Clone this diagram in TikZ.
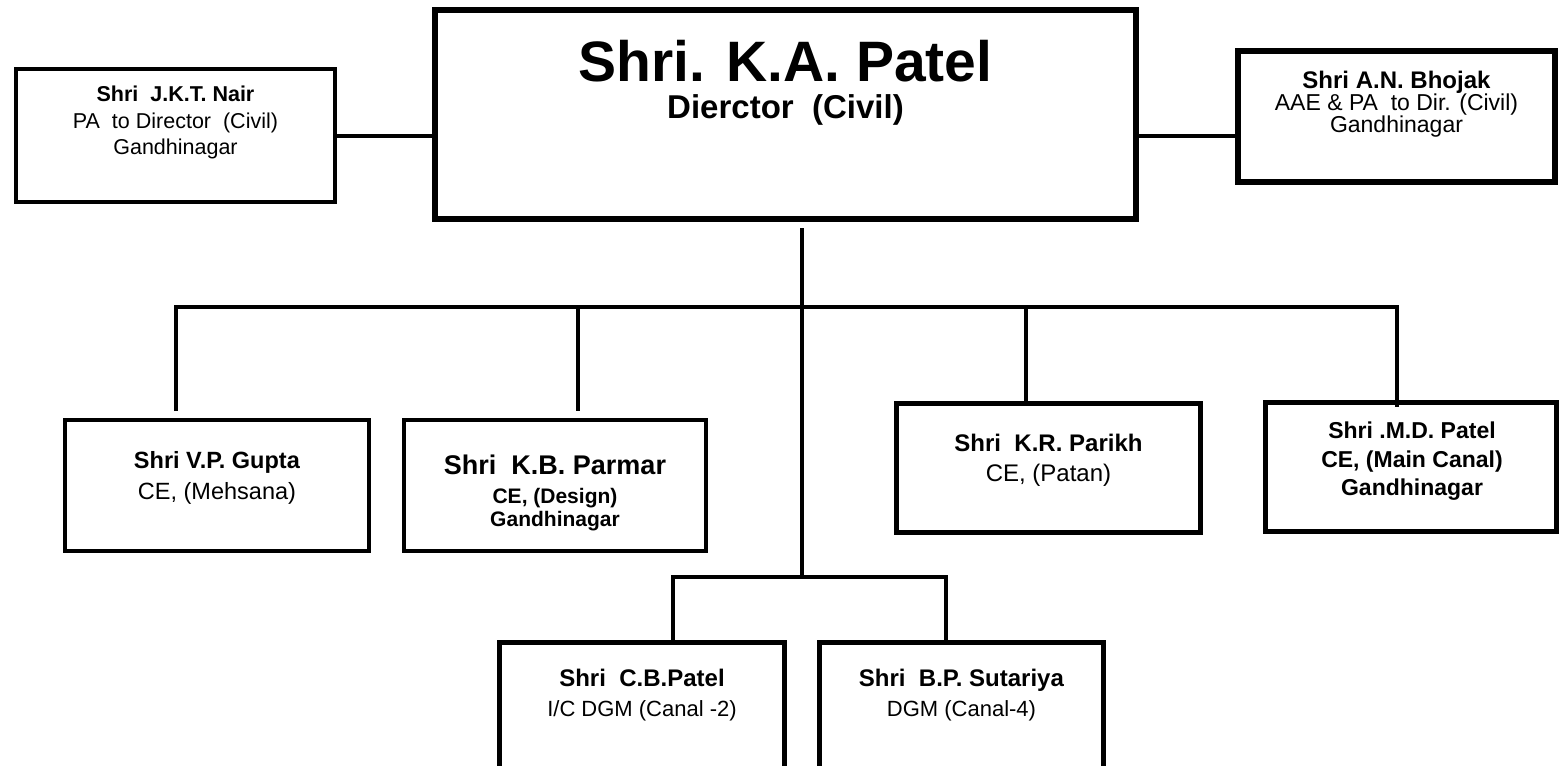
\documentclass[tikz,border=0pt]{standalone}
\usepackage{fontspec}
\setmainfont{Liberation Sans}
\lineskiplimit=-100pt

\begin{document}
\begin{tikzpicture}[x=1pt,y=-1pt,
  box/.style={draw,line width=4pt,inner sep=0pt},
  thickbox/.style={box,line width=6pt},
  midbox/.style={box,line width=5pt},
  conn/.style={line width=4pt},
  txt/.style={anchor=north,align=center,inner sep=0pt},
  txtbase/.style={anchor=base,inner sep=0pt}]
\clip (0,0) rectangle (1559,766);
\fill[white] (0,0) rectangle (1559,766);
% boxes
\node[box,minimum width=319pt,minimum height=133pt] (nair) at (175.5,135.5) {};
\node[thickbox,minimum width=701pt,minimum height=209pt] (dir) at (785.5,114.5) {};
\node[thickbox,minimum width=317pt,minimum height=131pt] (bhojak) at (1396.5,116.5) {};
\node[box,minimum width=304pt,minimum height=131pt] (gupta) at (217,485.5) {};
\node[box,minimum width=302pt,minimum height=131pt] (parmar) at (555,485.5) {};
\node[midbox,minimum width=304pt,minimum height=129pt] (parikh) at (1048.5,468) {};
\node[midbox,minimum width=290.5pt,minimum height=128.5pt] (mdpatel) at (1410.75,467) {};
\node[midbox,minimum width=285pt,minimum height=147.5pt] (cbpatel) at (642,716.25) {};
\node[midbox,minimum width=284pt,minimum height=147.5pt] (bpsut) at (961.5,716.25) {};
% texts
\node[txt,font=\fontsize{21.5}{26.5}\selectfont] (nairT) at (175.5,86) {\textbf{Shri~~J.K.T. Nair}\\PA~~to Director~~(Civil)\\Gandhinagar};
\node[txtbase,font=\bfseries\fontsize{57}{64}\selectfont] (dirA) at (785.5,81) {Shri. K.A. Patel};
\node[txtbase,font=\bfseries\fontsize{33}{40}\selectfont] (dirB) at (785.5,118) {Dierctor~~(Civil)};
\node[txt,font=\fontsize{23}{22}\selectfont] (bhojakT) at (1396.5,71.4) {\textbf{\fontsize{24}{22}\selectfont Shri A.N. Bhojak}\\AAE \& PA~~to Dir. (Civil)\\Gandhinagar};
\node[txt,font=\fontsize{23.5}{31}\selectfont] (guptaT) at (217,451.5) {\textbf{Shri V.P. Gupta}\\CE, (Mehsana)};
\node[txtbase,font=\bfseries\fontsize{27}{30}\selectfont] (parmarA) at (555,474.7) {Shri~~K.B. Parmar};
\node[txt,font=\bfseries\fontsize{21}{23}\selectfont] (parmarB) at (555,488.4) {CE, (Design)\\Gandhinagar};
\node[txt,font=\fontsize{24}{30}\selectfont] (parikhT) at (1048.5,434.4) {\textbf{Shri~~K.R. Parikh}\\CE, (Patan)};
\node[txt,font=\bfseries\fontsize{23}{28.5}\selectfont] (mdT) at (1412,421.7) {Shri .M.D. Patel\\CE, (Main Canal)\\Gandhinagar};
\node[txt,font=\fontsize{22}{30}\selectfont] (cbT) at (642,669.4) {\textbf{\fontsize{24}{30}\selectfont Shri~~C.B.Patel}\\I/C DGM (Canal -2)};
\node[txt,font=\fontsize{22}{30}\selectfont] (bpT) at (961.5,669.4) {\textbf{\fontsize{24}{30}\selectfont Shri~~B.P. Sutariya}\\DGM (Canal-4)};
% side links
\draw[conn] (nair.east) -- (nair.east -| dir.west);
\draw[conn] (dir.east |- nair.east) -- (bhojak.west |- nair.east);
% trunk and bus
\coordinate (trunk) at (802,228);
\coordinate (fork) at (802,577);
\coordinate (busL) at (176,307);
\coordinate (busR) at (1397,307);
\coordinate (guptaIn) at (176,411);
\coordinate (mdIn) at (1397,407);
\coordinate (parmarUp) at (578,307);
\coordinate (parmarIn) at (578,411);
\coordinate (parikhUp) at (1026,307);
\draw[conn] (trunk) -- (fork);
\draw[conn] (guptaIn) -- (busL) -- (busR) -- (mdIn);
\draw[conn] (parmarUp) -- (parmarIn);
\draw[conn] (parikhUp) -- (parikhUp |- parikh.north);
% fork to DGMs
\coordinate (forkL) at (673,577);
\coordinate (forkR) at (946,577);
\draw[conn] (forkL |- cbpatel.north) -- (forkL) -- (forkR) -- (forkR |- bpsut.north);
\end{tikzpicture}
\end{document}
